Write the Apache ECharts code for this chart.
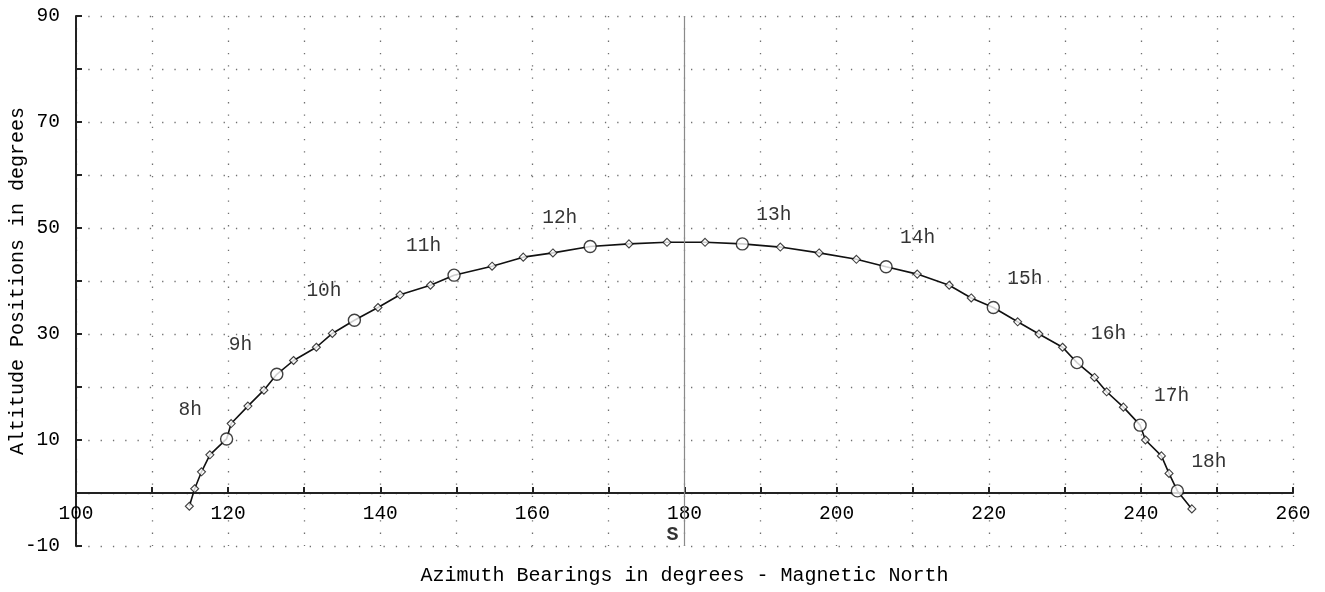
<!DOCTYPE html>
<html>
<head>
<meta charset="utf-8">
<script src="https://cdn.jsdelivr.net/npm/echarts@6/dist/echarts.min.js"></script>
<style>
  html, body { margin: 0; padding: 0; background: #ffffff; }
  #chart { width: 1325px; height: 592px; }
</style>
</head>
<body>
<div id="chart"></div>
<script>
// Sun positions at quarter-hour steps
const times = ['7:00','7:15','7:30','7:45','8:00','8:15','8:30','8:45','9:00','9:15','9:30','9:45',
  '10:00','10:15','10:30','10:45','11:00','11:15','11:30','11:45','12:00','12:15','12:30','12:45',
  '13:00','13:15','13:30','13:45','14:00','14:15','14:30','14:45','15:00','15:15','15:30','15:45',
  '16:00','16:15','16:30','16:45','17:00','17:15','17:30','17:45','18:00','18:15'];
const azimuth = [114.9,115.6,116.5,117.6,119.8,120.4,122.6,124.7,126.4,128.6,131.6,133.7,
  136.6,139.7,142.6,146.6,149.7,154.7,158.8,162.7,167.6,172.7,177.7,182.7,
  187.6,192.6,197.7,202.6,206.5,210.6,214.8,217.7,220.6,223.8,226.6,229.7,
  231.6,233.9,235.5,237.7,239.9,240.6,242.7,243.7,244.8,246.7];
const altitude = [-2.5,0.8,4.0,7.2,10.2,13.1,16.4,19.4,22.4,25.0,27.5,30.1,
  32.6,35.0,37.4,39.2,41.1,42.8,44.5,45.3,46.5,47.0,47.3,47.3,
  47.0,46.4,45.3,44.1,42.7,41.3,39.2,36.8,35.0,32.3,30.0,27.5,
  24.6,21.8,19.1,16.2,12.8,10.0,7.0,3.7,0.4,-3.0];
// Hours marked with a circle and a label
const hourTimes = ['8:00','9:00','10:00','11:00','12:00','13:00','14:00','15:00','16:00','17:00','18:00'];
const hourLabels = ['8h','9h','10h','11h','12h','13h','14h','15h','16h','17h','18h'];
const southAzimuth = 180;
const southLabel = 'S';
const xTitle = 'Azimuth Bearings in degrees - Magnetic North';
const yTitle = 'Altitude Positions in degrees';

const FONT = 'Liberation Mono';
const TXT = '#000';

const allPts = azimuth.map((a, i) => [a, altitude[i]]);
const quarterPts = [];
const hourPts = [];
times.forEach((t, i) => {
  const k = hourTimes.indexOf(t);
  if (k >= 0) {
    const h = parseInt(t, 10);
    hourPts.push({
      value: [azimuth[i], altitude[i]],
      label: { formatter: hourLabels[k], offset: h < 13 ? [-48, -29] : [14, -29] }
    });
  } else {
    quarterPts.push([azimuth[i], altitude[i]]);
  }
});

const chart = echarts.init(document.getElementById('chart'), null, { renderer: 'canvas' });
chart.setOption({
  animation: false,
  backgroundColor: '#ffffff',
  grid: { left: 76, right: 32, top: 16, bottom: 46, containLabel: false, outerBoundsMode: 'none' },
  xAxis: {
    type: 'value', min: 100, max: 260, interval: 10,
    position: 'bottom', offset: -53,
    name: xTitle, nameLocation: 'middle', nameGap: 73, nameMoveOverlap: false,
    nameTextStyle: { fontFamily: FONT, fontSize: 20, color: TXT },
    axisLine: { onZero: false, lineStyle: { color: '#222', width: 2 } },
    axisTick: { show: true, inside: true, length: 6, lineStyle: { color: '#222', width: 2 } },
    axisLabel: {
      margin: 11, fontFamily: FONT, fontSize: 19.5, color: TXT,
      formatter: v => (v % 20 === 0 ? String(v) : '')
    },
    splitLine: { show: true, lineStyle: { color: '#707070', width: 1.3, type: [1.3, 11] } }
  },
  yAxis: {
    type: 'value', min: -10, max: 90, interval: 10,
    name: yTitle, nameLocation: 'middle', nameGap: 48, nameRotate: 90, nameMoveOverlap: false,
    nameTextStyle: { fontFamily: FONT, fontSize: 20, color: TXT },
    axisLine: { show: true, onZero: false, lineStyle: { color: '#222', width: 2 } },
    axisTick: { show: true, inside: true, length: 6, lineStyle: { color: '#222', width: 2 } },
    axisLabel: {
      margin: 16, fontFamily: FONT, fontSize: 19.5, color: TXT,
      formatter: v => ((v + 10) % 20 === 0 ? String(v) : '')
    },
    splitLine: { show: true, lineStyle: { color: '#707070', width: 1.3, type: [1.3, 11] } }
  },
  series: [
    {
      type: 'line', data: allPts, symbol: 'none', z: 3,
      lineStyle: { color: '#111', width: 1.6 },
      markLine: {
        silent: true, symbol: 'none', label: { show: false },
        lineStyle: { color: '#8a8a8a', width: 1.2, type: 'solid' },
        data: [{ xAxis: southAzimuth }]
      }
    },
    {
      type: 'scatter', data: quarterPts, symbol: 'diamond', symbolSize: 8, z: 4,
      itemStyle: { color: '#fff', borderColor: '#111', borderWidth: 1.1 }
    },
    {
      type: 'scatter', data: hourPts, symbol: 'circle', symbolSize: 12, z: 5,
      itemStyle: { color: '#fff', borderColor: '#111', borderWidth: 1.4 },
      label: {
        show: true, position: 'inside', align: 'left', verticalAlign: 'middle',
        fontFamily: FONT, fontSize: 19.5, color: TXT
      }
    },
    {
      type: 'scatter', data: [[southAzimuth, -10]], symbolSize: 0, z: 6, silent: true,
      label: {
        show: true, formatter: southLabel, position: 'inside', offset: [-12, -11],
        fontFamily: FONT, fontSize: 20, fontWeight: 'bold', color: TXT
      }
    }
  ]
});
</script>
</body>
</html>
